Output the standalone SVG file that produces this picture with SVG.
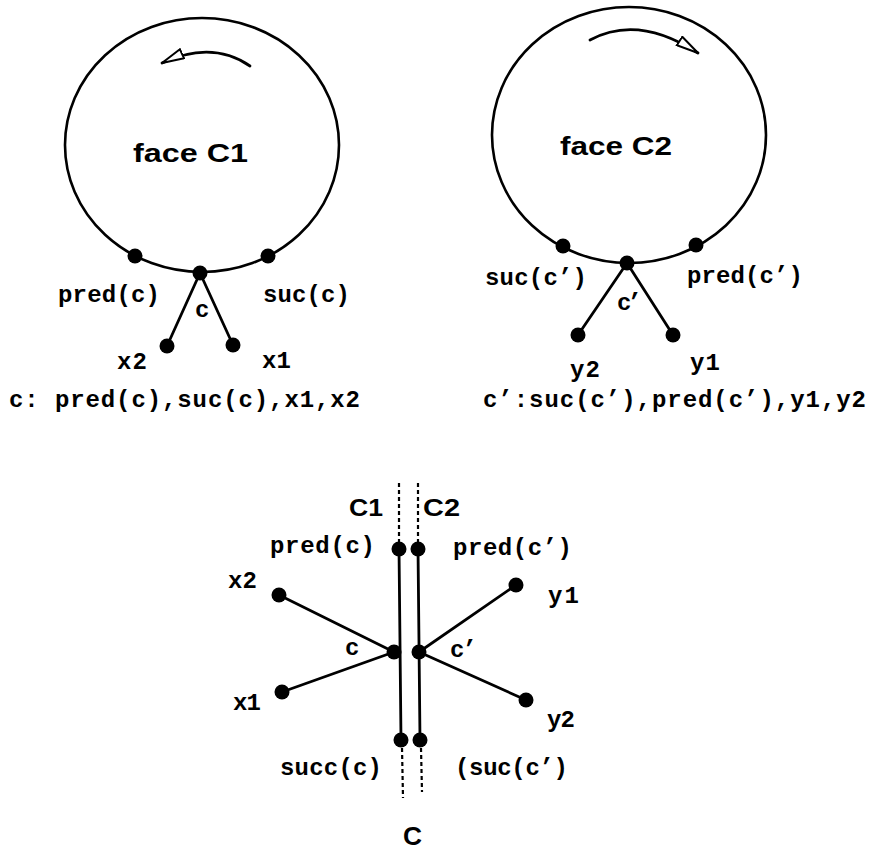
<svg xmlns="http://www.w3.org/2000/svg" width="870" height="849" viewBox="0 0 870 849">
<style>
.ln{stroke:#000;stroke-width:2.8;fill:none;stroke-linecap:round}
.face{stroke:#000;stroke-width:2.6;fill:none}
.dash{stroke:#000;stroke-width:2.2;fill:none;stroke-dasharray:4 3}
.dot{fill:#000}
.mono{font-family:"Liberation Mono","Courier New",monospace;font-weight:bold;font-size:24px;fill:#000}
.sans{font-family:"Liberation Sans",Arial,sans-serif;font-weight:bold;fill:#000}
</style>
<defs>
<marker id="open" viewBox="0 0 24 12" markerUnits="userSpaceOnUse" markerWidth="24" markerHeight="12" refX="23" refY="6" orient="auto">
<path d="M1,1 L23,6 L1,11 z" fill="#fff" stroke="#000" stroke-width="2"/>
</marker>
</defs>
<rect width="870" height="849" fill="#fff"/>

<!-- faces -->
<g id="faceC1">
<ellipse class="face" cx="202" cy="145" rx="137" ry="127"/>
<path class="ln" d="M250,66 Q212,40 162,63" marker-end="url(#open)"/>
<text class="sans" x="133" y="162" font-size="25" textLength="115" lengthAdjust="spacingAndGlyphs">face  C1</text>
</g>
<g id="faceC2">
<ellipse class="face" cx="629" cy="135" rx="137" ry="128"/>
<path class="ln" d="M590,40 Q638,14 698,53" marker-end="url(#open)"/>
<text class="sans" x="560" y="155" font-size="25" textLength="112" lengthAdjust="spacingAndGlyphs">face  C2</text>
</g>

<!-- connectors -->
<g id="connectors">
<line class="ln" x1="200" y1="273" x2="167" y2="346"/>
<line class="ln" x1="200" y1="273" x2="233" y2="345"/>
<line class="ln" x1="627" y1="263" x2="578" y2="335"/>
<line class="ln" x1="627" y1="263" x2="673" y2="335"/>
<line class="dash" x1="399" y1="483" x2="399" y2="545"/>
<line class="dash" x1="418" y1="483" x2="418" y2="545"/>
<line class="ln" x1="399" y1="548" x2="401" y2="740"/>
<line class="ln" x1="418" y1="548" x2="420" y2="740"/>
<line class="dash" x1="402" y1="748" x2="403" y2="798"/>
<line class="dash" x1="421" y1="748" x2="422" y2="792"/>
<line class="ln" x1="394" y1="652" x2="279" y2="595"/>
<line class="ln" x1="394" y1="652" x2="282" y2="692"/>
<line class="ln" x1="419" y1="652" x2="516" y2="585"/>
<line class="ln" x1="419" y1="652" x2="526" y2="700"/>
</g>

<!-- top-left nodes -->
<g id="predc_top"><circle class="dot" cx="135" cy="256" r="7.5"/><text class="mono" x="58" y="302" textLength="102">pred(c)</text></g>
<g id="succ_top"><circle class="dot" cx="268" cy="256" r="7.5"/><text class="mono" x="263" y="302" textLength="87">suc(c)</text></g>
<g id="c_top"><circle class="dot" cx="200" cy="273" r="7.5"/><text class="mono" x="195" y="317">c</text></g>
<g id="x2_top"><circle class="dot" cx="167" cy="346" r="7.5"/><text class="mono" x="117" y="369" textLength="30">x2</text></g>
<g id="x1_top"><circle class="dot" cx="233" cy="345" r="7.5"/><text class="mono" x="262" y="368" textLength="29">x1</text></g>
<text class="mono" x="9" y="407" textLength="351">c: pred(c),suc(c),x1,x2</text>

<!-- top-right nodes -->
<g id="sucp_top"><circle class="dot" cx="563" cy="246" r="7.5"/><text class="mono" x="485" y="285" textLength="102">suc(c’)</text></g>
<g id="predp_top"><circle class="dot" cx="696" cy="245" r="7.5"/><text class="mono" x="687" y="283" textLength="116">pred(c’)</text></g>
<g id="cp_top"><circle class="dot" cx="627" cy="263" r="7.5"/><text class="mono" x="617" y="310" textLength="25">c’</text></g>
<g id="y2_top"><circle class="dot" cx="578" cy="335" r="7.5"/><text class="mono" x="570" y="377" textLength="30">y2</text></g>
<g id="y1_top"><circle class="dot" cx="673" cy="335" r="7.5"/><text class="mono" x="690" y="370" textLength="30">y1</text></g>
<text class="mono" x="483" y="407" textLength="383">c’:suc(c’),pred(c’),y1,y2</text>

<!-- bottom diagram -->
<text class="sans" x="349" y="516" font-size="23" textLength="34" lengthAdjust="spacingAndGlyphs">C1</text>
<text class="sans" x="423" y="516" font-size="23" textLength="37" lengthAdjust="spacingAndGlyphs">C2</text>
<g id="predc_bot"><circle class="dot" cx="399" cy="549" r="7.5"/><text class="mono" x="270" y="553" textLength="105">pred(c)</text></g>
<g id="predp_bot"><circle class="dot" cx="418" cy="549" r="7.5"/><text class="mono" x="453" y="555" textLength="119">pred(c’)</text></g>
<g id="x2_bot"><circle class="dot" cx="279" cy="595" r="7.5"/><text class="mono" x="228" y="588" textLength="29">x2</text></g>
<g id="x1_bot"><circle class="dot" cx="282" cy="692" r="7.5"/><text class="mono" x="233" y="710" textLength="28">x1</text></g>
<g id="c_bot"><circle class="dot" cx="394" cy="652" r="7.5"/><text class="mono" x="345" y="655">c</text></g>
<g id="cp_bot"><circle class="dot" cx="419" cy="652" r="7.5"/><text class="mono" x="450" y="657" textLength="27">c’</text></g>
<g id="y1_bot"><circle class="dot" cx="516" cy="585" r="7.5"/><text class="mono" x="548" y="603" textLength="31">y1</text></g>
<g id="y2_bot"><circle class="dot" cx="526" cy="700" r="7.5"/><text class="mono" x="547" y="727" textLength="28">y2</text></g>
<g id="succ_bot"><circle class="dot" cx="401" cy="740" r="7.5"/><text class="mono" x="280" y="775" textLength="102">succ(c)</text></g>
<g id="sucp_bot"><circle class="dot" cx="420" cy="740" r="7.5"/><text class="mono" x="455" y="775" textLength="113">(suc(c’)</text></g>
<text class="sans" x="403" y="845" font-size="25" textLength="19" lengthAdjust="spacingAndGlyphs">C</text>
</svg>
